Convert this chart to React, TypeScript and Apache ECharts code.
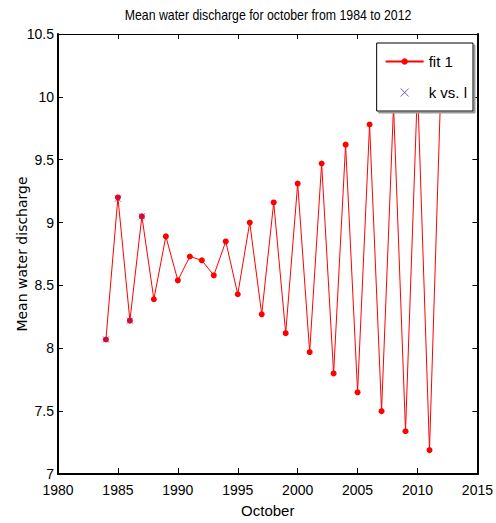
import React, { useEffect, useRef } from "react";
import * as echarts from "echarts";

const titleText = "Mean water discharge for october from 1984 to 2012";
const xName = "October";
const yName = "Mean water discharge";

const years = [
  1984, 1985, 1986, 1987, 1988, 1989, 1990, 1991, 1992, 1993, 1994, 1995, 1996, 1997, 1998,
  1999, 2000, 2001, 2002, 2003, 2004, 2005, 2006, 2007, 2008, 2009, 2010, 2011, 2012,
];
const fitValues = [
  8.07, 9.2, 8.22, 9.05, 8.39, 8.89, 8.54, 8.73, 8.7, 8.58, 8.85, 8.43, 9.0, 8.27, 9.16,
  8.12, 9.31, 7.97, 9.47, 7.8, 9.62, 7.65, 9.78, 7.5, 9.93, 7.34, 10.08, 7.19, 10.24,
];
const kYears = [1984, 1985, 1986, 1987];
const kValues = [8.07, 9.19, 8.22, 9.05];

const xMin = 1980;
const xMax = 2015;
const xStep = 5;
const yMin = 7;
const yMax = 10.5;
const yStep = 0.5;

const FONT = "'Liberation Sans Narrow', 'Liberation Sans', Arial, sans-serif";
const X_SYMBOL = "path://M0,0L10,10M10,0L0,10";
const KCOLOR = "#5a2bc8";

export default function App() {
  const ref = useRef<HTMLDivElement>(null);
  useEffect(() => {
    if (!ref.current) return;
    const chart = echarts.init(ref.current, null, { renderer: "svg" });
    const tickStyle = { color: "#000", fontFamily: FONT, fontSize: 14 };
    chart.setOption({
      animation: false,
      backgroundColor: "#fff",
      graphic: [
        {
          type: "text",
          x: 268,
          y: 15,
          scaleX: 0.88,
          style: {
            text: titleText,
            align: "center",
            verticalAlign: "middle",
            fontFamily: FONT,
            fontSize: 14,
            fill: "#000",
          },
        },
      ],
      legend: {
        orient: "vertical",
        right: 23,
        top: 43,
        padding: [11, 6, 11, 8],
        itemWidth: 38,
        itemHeight: 8,
        itemGap: 16,
        backgroundColor: "#fff",
        borderColor: "#000",
        borderWidth: 1,
        borderRadius: 0,
        shadowColor: "#999",
        shadowOffsetX: 2,
        shadowOffsetY: 2,
        shadowBlur: 0,
        textStyle: { fontFamily: FONT, fontSize: 15, color: "#000" },
        data: [
          { name: "fit 1" },
          {
            name: "k vs. l",
            icon: X_SYMBOL,
            itemStyle: { color: "none", borderColor: KCOLOR, borderWidth: 1 },
          },
        ],
      },
      grid: { left: 58, top: 34, width: 420, height: 441, containLabel: false },
      xAxis: [
        {
          type: "value",
          min: xMin,
          max: xMax,
          interval: xStep,
          position: "bottom",
          name: xName,
          nameLocation: "middle",
          nameGap: 29,
          nameTextStyle: { fontFamily: FONT, fontSize: 15, color: "#000" },
          axisLine: { onZero: false, lineStyle: { color: "#000", width: 2 } },
          axisTick: { inside: true, length: 6, lineStyle: { color: "#000", width: 1 } },
          axisLabel: { ...tickStyle, margin: 9, formatter: (v: number) => String(v) },
          splitLine: { show: false },
        },
        {
          type: "value",
          min: xMin,
          max: xMax,
          interval: xStep,
          position: "top",
          axisLine: { onZero: false, lineStyle: { color: "#000", width: 1 } },
          axisTick: { inside: true, length: 5, lineStyle: { color: "#000", width: 1 } },
          axisLabel: { show: false },
          splitLine: { show: false },
        },
      ],
      yAxis: [
        {
          type: "value",
          min: yMin,
          max: yMax,
          interval: yStep,
          position: "left",
          name: yName,
          nameLocation: "middle",
          nameGap: 29,
          nameMoveOverlap: false,
          nameTextStyle: { fontFamily: "'DejaVu Sans', sans-serif", fontSize: 14, color: "#000" },
          axisLine: { onZero: false, lineStyle: { color: "#000", width: 2 } },
          axisTick: { inside: true, length: 5, lineStyle: { color: "#000", width: 1 } },
          axisLabel: { ...tickStyle, margin: 4 },
          splitLine: { show: false },
        },
        {
          type: "value",
          min: yMin,
          max: yMax,
          interval: yStep,
          position: "right",
          axisLine: { onZero: false, lineStyle: { color: "#000", width: 2 } },
          axisTick: { inside: true, length: 5, lineStyle: { color: "#000", width: 1 } },
          axisLabel: { show: false },
          splitLine: { show: false },
        },
      ],
      series: [
        {
          name: "fit 1",
          type: "line",
          xAxisIndex: 0,
          yAxisIndex: 0,
          data: years.map((y, i) => [y, fitValues[i]]),
          symbol: "circle",
          symbolSize: 6,
          showSymbol: true,
          lineStyle: { color: "#ff0000", width: 1 },
          itemStyle: { color: "#ff0000" },
          z: 2,
        },
        {
          name: "k vs. l",
          type: "scatter",
          xAxisIndex: 0,
          yAxisIndex: 0,
          data: kYears.map((y, i) => [y, kValues[i]]),
          symbol: X_SYMBOL,
          symbolSize: 6,
          itemStyle: { color: "none", borderColor: KCOLOR, borderWidth: 1 },
          z: 3,
        },
      ],
    });
    return () => chart.dispose();
  }, []);
  return (
    <div
      ref={ref}
      style={{ position: "fixed", left: 0, top: 0, width: 496, height: 523 }}
    />
  );
}
